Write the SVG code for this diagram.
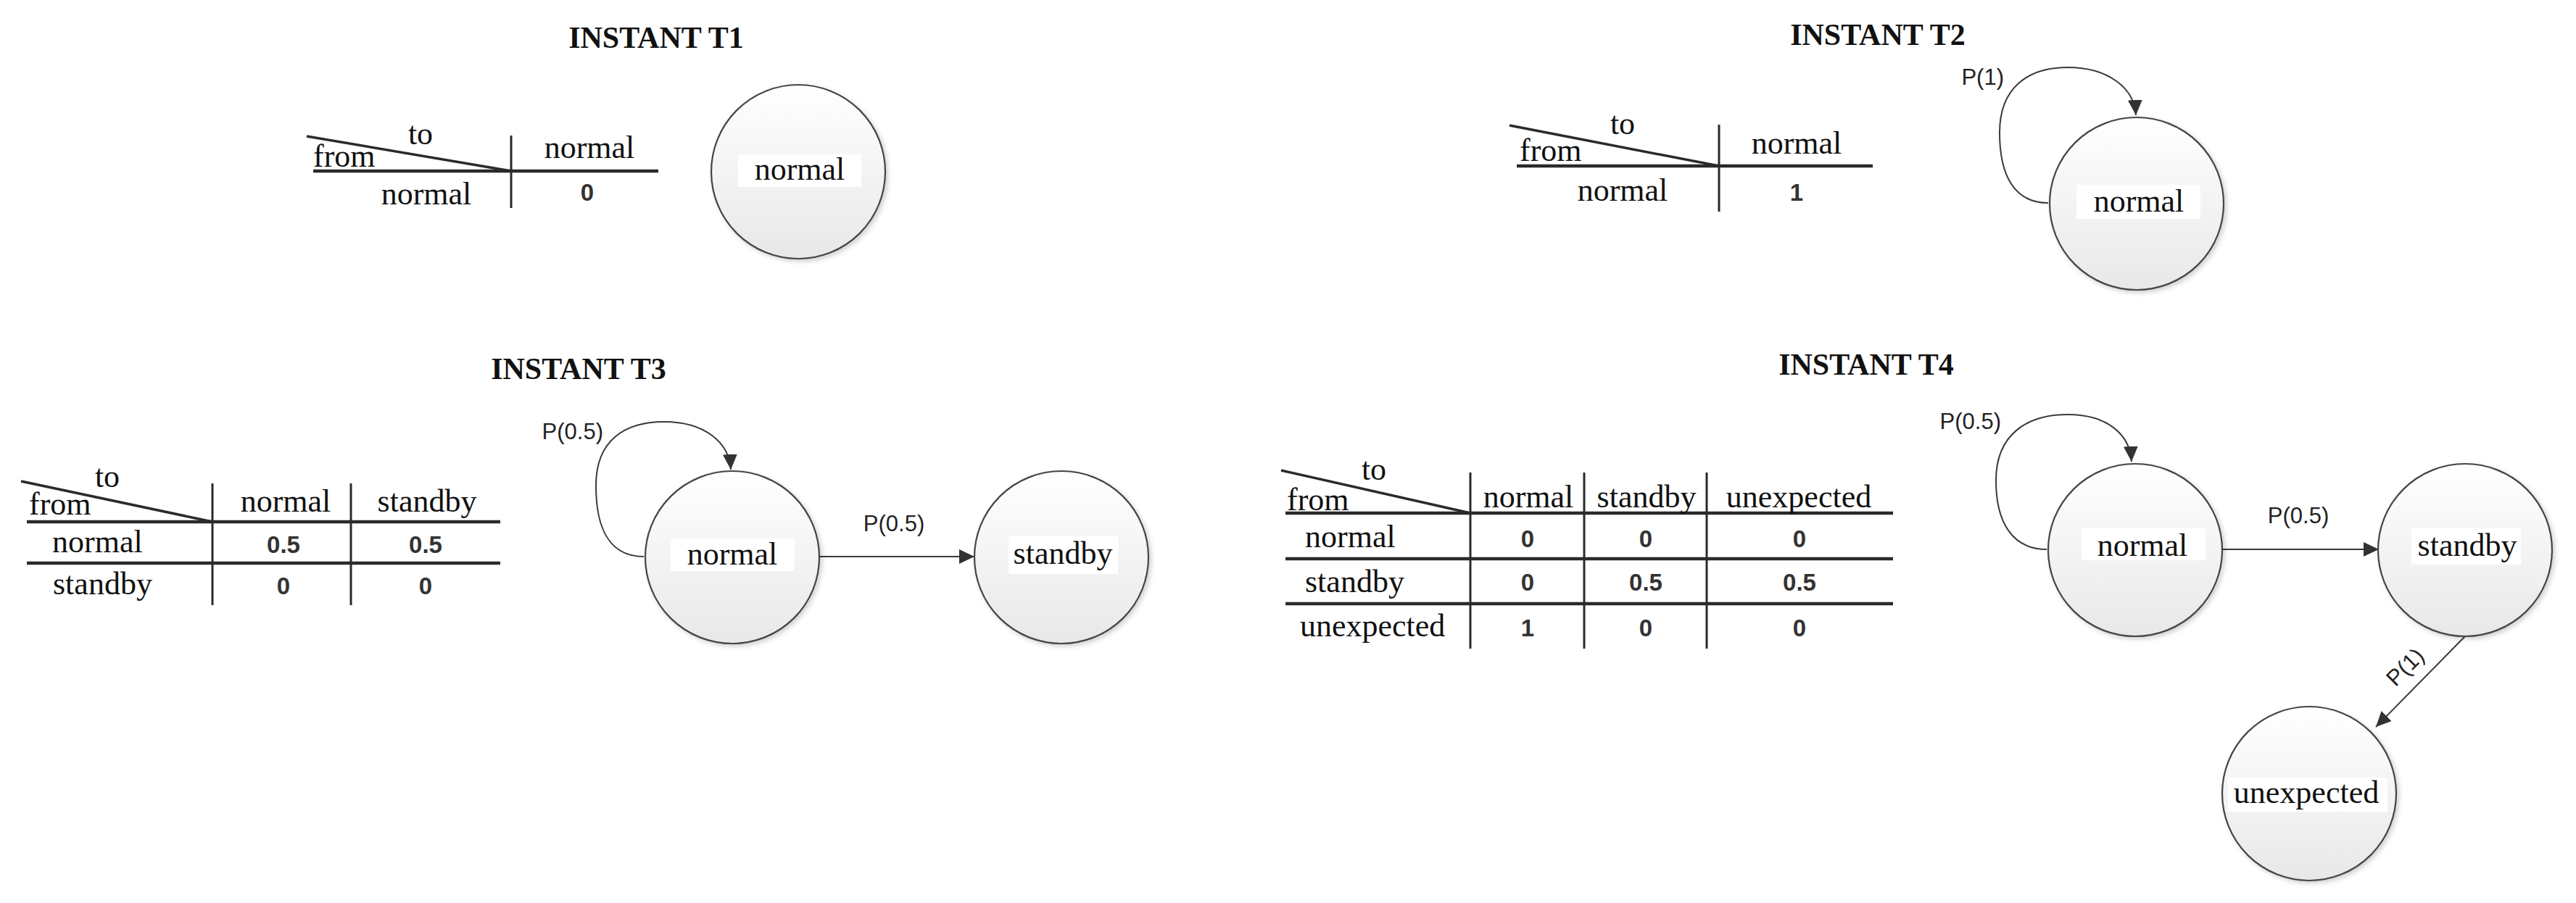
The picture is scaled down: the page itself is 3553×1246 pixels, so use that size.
<svg xmlns="http://www.w3.org/2000/svg" width="3553" height="1246" viewBox="0 0 3553 1246">
<style>
.title{font-family:"Liberation Serif",serif;font-weight:bold;font-size:42px;fill:#111;text-anchor:middle}
.t{font-family:"Liberation Serif",serif;font-size:44px;fill:#111}
.c{text-anchor:middle}
.v{font-family:"Liberation Sans",sans-serif;font-size:33px;font-weight:bold;fill:#333;text-anchor:middle}
.lbl{font-family:"Liberation Sans",sans-serif;font-size:31px;fill:#222}
.hl{stroke:#2a2a2a;stroke-width:4.5;fill:none}
.vl{stroke:#2a2a2a;stroke-width:3;fill:none}
.dg{stroke:#2a2a2a;stroke-width:3.5;fill:none}
.node{fill:url(#g);stroke:#444;stroke-width:2.2;filter:url(#sh)}
.bg{fill:#fff}
.edge{stroke:#3a3a3a;stroke-width:2;fill:none;marker-end:url(#ah)}
</style>
<defs>
<linearGradient id="g" x1="0" y1="0" x2="0" y2="1">
<stop offset="0" stop-color="#ffffff"/>
<stop offset="1" stop-color="#e8e8e8"/>
</linearGradient>
<filter id="sh" x="-20%" y="-20%" width="140%" height="140%">
<feDropShadow dx="3" dy="3" stdDeviation="3" flood-color="#000" flood-opacity="0.18"/>
</filter>
<marker id="ah" markerUnits="userSpaceOnUse" markerWidth="22" markerHeight="22" refX="21" refY="10" orient="auto">
<path d="M0,0 L21,10 L0,20 z" fill="#333"/>
</marker>
</defs>
<rect width="3553" height="1246" fill="#fff"/>

<g id="titles">
<text class="title" x="905" y="66">INSTANT T1</text>
<text class="title" x="2590" y="62">INSTANT T2</text>
<text class="title" x="798" y="523">INSTANT T3</text>
<text class="title" x="2574" y="517">INSTANT T4</text>
</g>

<g id="table-t1">
<line class="dg" x1="423" y1="188" x2="705" y2="236"/>
<line class="hl" x1="432" y1="236" x2="908" y2="236"/>
<line class="vl" x1="705" y1="187" x2="705" y2="287"/>
<text class="t c" x="580" y="199">to</text>
<text class="t" x="432" y="230">from</text>
<text class="t c" x="813" y="218">normal</text>
<text class="t c" x="588" y="282">normal</text>
<text class="v" x="810" y="277">0</text>
</g>

<g id="table-t2">
<line class="dg" x1="2082" y1="173" x2="2371" y2="229"/>
<line class="hl" x1="2092" y1="229" x2="2583" y2="229"/>
<line class="vl" x1="2371" y1="172" x2="2371" y2="292"/>
<text class="t c" x="2238" y="185">to</text>
<text class="t" x="2096" y="222">from</text>
<text class="t c" x="2478" y="212">normal</text>
<text class="t c" x="2238" y="277">normal</text>
<text class="v" x="2478" y="277">1</text>
</g>

<g id="table-t3">
<line class="dg" x1="29" y1="664" x2="293" y2="720"/>
<line class="hl" x1="37" y1="720" x2="690" y2="720"/>
<line class="hl" x1="37" y1="777" x2="690" y2="777"/>
<line class="vl" x1="293" y1="667" x2="293" y2="835"/>
<line class="vl" x1="484" y1="667" x2="484" y2="835"/>
<text class="t c" x="148" y="672">to</text>
<text class="t" x="40" y="710">from</text>
<text class="t c" x="394" y="706">normal</text>
<text class="t c" x="589" y="706">standby</text>
<text class="t" x="72" y="762">normal</text>
<text class="t" x="73" y="820">standby</text>
<text class="v" x="391" y="763">0.5</text>
<text class="v" x="587" y="763">0.5</text>
<text class="v" x="391" y="820">0</text>
<text class="v" x="587" y="820">0</text>
</g>

<g id="table-t4">
<line class="dg" x1="1767" y1="649" x2="2028" y2="708"/>
<line class="hl" x1="1773" y1="708" x2="2611" y2="708"/>
<line class="hl" x1="1773" y1="771" x2="2611" y2="771"/>
<line class="hl" x1="1773" y1="833" x2="2611" y2="833"/>
<line class="vl" x1="2028" y1="652" x2="2028" y2="895"/>
<line class="vl" x1="2185" y1="652" x2="2185" y2="895"/>
<line class="vl" x1="2354" y1="652" x2="2354" y2="895"/>
<text class="t c" x="1895" y="662">to</text>
<text class="t" x="1775" y="704">from</text>
<text class="t c" x="2108" y="700">normal</text>
<text class="t c" x="2271" y="700">standby</text>
<text class="t c" x="2481" y="700">unexpected</text>
<text class="t" x="1800" y="755">normal</text>
<text class="t" x="1800" y="817">standby</text>
<text class="t" x="1793" y="878">unexpected</text>
<text class="v" x="2107" y="755">0</text>
<text class="v" x="2270" y="755">0</text>
<text class="v" x="2482" y="755">0</text>
<text class="v" x="2107" y="815">0</text>
<text class="v" x="2270" y="815">0.5</text>
<text class="v" x="2482" y="815">0.5</text>
<text class="v" x="2107" y="878">1</text>
<text class="v" x="2270" y="878">0</text>
<text class="v" x="2482" y="878">0</text>
</g>

<g id="connectors">
<path class="edge" d="M2825,280 C2777,280 2758,240 2758,183 C2758,121 2797,93 2852,93 C2907,93 2944,121 2946,159"/>
<path class="edge" d="M888,768 C840,768 822,728 822,670 C822,608 861,582 916,582 C971,582 1006,610 1008,648"/>
<line class="edge" x1="1130" y1="768" x2="1344" y2="768"/>
<path class="edge" d="M2823,758 C2775,758 2753,720 2753,663 C2753,600 2795,572 2852,572 C2907,572 2938,600 2940,637"/>
<line class="edge" x1="3066" y1="758" x2="3281" y2="758"/>
<line class="edge" x1="3400" y1="878" x2="3277" y2="1003"/>
<text class="lbl" x="2764" y="117" text-anchor="end">P(1)</text>
<text class="lbl" x="832" y="606" text-anchor="end">P(0.5)</text>
<text class="lbl" x="1233" y="733" text-anchor="middle">P(0.5)</text>
<text class="lbl" x="2760" y="592" text-anchor="end">P(0.5)</text>
<text class="lbl" x="3170" y="722" text-anchor="middle">P(0.5)</text>
<text class="lbl" text-anchor="middle" transform="translate(3317,920) rotate(-45)" y="11">P(1)</text>
</g>

<g id="t1-normal">
<ellipse class="node" cx="1101" cy="237" rx="120" ry="120"/>
<rect class="bg" x="1018" y="213" width="170" height="45"/>
<text class="t c" x="1103" y="248">normal</text>
</g>

<g id="t2-normal">
<ellipse class="node" cx="2947" cy="281" rx="120" ry="119"/>
<rect class="bg" x="2864" y="255" width="171" height="47"/>
<text class="t c" x="2950" y="292">normal</text>
</g>

<g id="t3-normal">
<ellipse class="node" cx="1010" cy="769" rx="120" ry="119"/>
<rect class="bg" x="925" y="743" width="171" height="45"/>
<text class="t c" x="1010" y="779">normal</text>
</g>

<g id="t3-standby">
<ellipse class="node" cx="1464" cy="769" rx="120" ry="119"/>
<rect class="bg" x="1391" y="740" width="151" height="52"/>
<text class="t c" x="1466" y="778">standby</text>
</g>

<g id="t4-normal">
<ellipse class="node" cx="2945" cy="759" rx="120" ry="119"/>
<rect class="bg" x="2871" y="729" width="171" height="44"/>
<text class="t c" x="2955" y="767">normal</text>
</g>

<g id="t4-standby">
<ellipse class="node" cx="3400" cy="759" rx="120" ry="119"/>
<rect class="bg" x="3326" y="729" width="151" height="50"/>
<text class="t c" x="3403" y="767">standby</text>
</g>

<g id="t4-unexpected">
<ellipse class="node" cx="3185" cy="1095" rx="120" ry="120"/>
<rect class="bg" x="3073" y="1073" width="220" height="47"/>
<text class="t c" x="3181" y="1108">unexpected</text>
</g>
</svg>
